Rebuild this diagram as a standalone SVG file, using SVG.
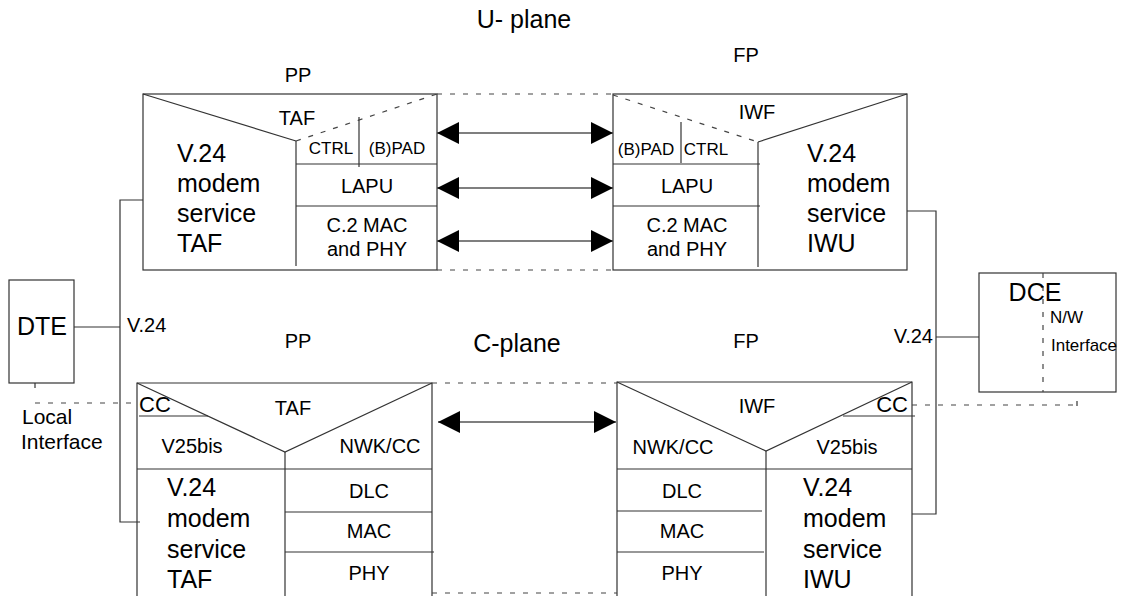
<svg xmlns="http://www.w3.org/2000/svg" width="1122" height="596" viewBox="0 0 1122 596">
<defs>
<style>
text{font-family:"Liberation Sans",Arial,sans-serif;fill:#000}
.big{font-size:25px}
.mid{font-size:20px}
.lg{font-size:22px}
.sm{font-size:17px}
.c{text-anchor:middle}
.ln{stroke:#333;stroke-width:1.2;fill:none}
.dash{stroke:#444;stroke-width:1.2;fill:none;stroke-dasharray:5 8}
.arr{stroke:#555;stroke-width:1.5;fill:none;marker-start:url(#ah);marker-end:url(#ah)}
</style>
<marker id="ah" viewBox="0 0 22 22" refX="22" refY="11" markerWidth="22" markerHeight="22" markerUnits="userSpaceOnUse" orient="auto-start-reverse"><path d="M0,0 L22,11 L0,22 z" fill="#000"/></marker>
</defs>
<rect width="1122" height="596" fill="#fff"/>

<g id="titles">
<text class="big c" x="524" y="28">U- plane</text>
<text class="mid c" x="298" y="82">PP</text>
<text class="mid c" x="746" y="62">FP</text>
<text class="mid c" x="298" y="348">PP</text>
<text class="big c" x="517" y="352">C-plane</text>
<text class="mid c" x="746" y="348">FP</text>
</g>

<g id="pp-uplane">
<rect class="ln" x="143" y="94" width="294" height="176"/>
<line class="ln" x1="143" y1="94" x2="296" y2="141"/>
<line class="dash" x1="296" y1="141" x2="437" y2="94"/>
<line class="ln" x1="296" y1="141" x2="296" y2="266"/>
<line class="ln" x1="296" y1="164" x2="437" y2="164"/>
<line class="ln" x1="296" y1="206" x2="437" y2="206"/>
<line class="ln" x1="359" y1="117" x2="359" y2="167"/>
<text class="mid c" x="297" y="125">TAF</text>
<text class="sm c" x="331" y="154">CTRL</text>
<text class="sm c" x="397" y="154">(B)PAD</text>
<text class="mid c" x="367" y="193">LAPU</text>
<text class="mid c" x="367" y="232">C.2 MAC</text>
<text class="mid c" x="367" y="256">and PHY</text>
<text class="big" x="177" y="162">V.24</text>
<text class="big" x="177" y="192">modem</text>
<text class="big" x="177" y="222">service</text>
<text class="big" x="177" y="252">TAF</text>
</g>

<g id="fp-uplane">
<rect class="ln" x="613" y="94" width="294" height="176"/>
<line class="ln" x1="758" y1="142" x2="907" y2="94"/>
<line class="dash" x1="613" y1="95" x2="758" y2="142"/>
<line class="ln" x1="758" y1="142" x2="758" y2="267"/>
<line class="ln" x1="613" y1="164" x2="760" y2="164"/>
<line class="ln" x1="613" y1="206" x2="760" y2="206"/>
<line class="ln" x1="681" y1="122" x2="681" y2="163"/>
<text class="mid c" x="757" y="119">IWF</text>
<text class="sm c" x="646" y="155">(B)PAD</text>
<text class="sm c" x="706" y="155">CTRL</text>
<text class="mid c" x="687" y="193">LAPU</text>
<text class="mid c" x="687" y="232">C.2 MAC</text>
<text class="mid c" x="687" y="256">and PHY</text>
<text class="big" x="807" y="162">V.24</text>
<text class="big" x="807" y="192">modem</text>
<text class="big" x="807" y="222">service</text>
<text class="big" x="807" y="252">IWU</text>
</g>

<g id="pp-cplane">
<path class="ln" d="M137,596 V383 H432 V596"/>
<polyline class="ln" points="137,383 285,452 432,383"/>
<line class="ln" x1="285" y1="452" x2="285" y2="596"/>
<line class="ln" x1="137" y1="469" x2="432" y2="469"/>
<line class="ln" x1="285" y1="512" x2="432" y2="512"/>
<line class="ln" x1="285" y1="552" x2="434" y2="552"/>
<line class="ln" x1="139" y1="416" x2="208" y2="416" stroke-width="1.6"/>
<text class="lg" x="139" y="412">CC</text>
<text class="mid c" x="293" y="415">TAF</text>
<text class="mid c" x="192" y="453">V25bis</text>
<text class="mid c" x="380" y="453">NWK/CC</text>
<text class="mid c" x="369" y="498">DLC</text>
<text class="mid c" x="369" y="538">MAC</text>
<text class="mid c" x="369" y="580">PHY</text>
<text class="big" x="167" y="496">V.24</text>
<text class="big" x="167" y="527">modem</text>
<text class="big" x="167" y="558">service</text>
<text class="big" x="167" y="588">TAF</text>
</g>

<g id="fp-cplane">
<path class="ln" d="M617,596 V382 H912 V596"/>
<polyline class="ln" points="617,382 766,451 912,382"/>
<line class="ln" x1="766" y1="451" x2="766" y2="596"/>
<line class="ln" x1="617" y1="469" x2="912" y2="469"/>
<line class="ln" x1="617" y1="511" x2="762" y2="511"/>
<line class="ln" x1="617" y1="552" x2="764" y2="552"/>
<line class="ln" x1="843" y1="416" x2="915" y2="416" stroke-width="1.6"/>
<text class="lg" x="908" y="412" text-anchor="end">CC</text>
<text class="mid c" x="757" y="413">IWF</text>
<text class="mid c" x="673" y="454">NWK/CC</text>
<text class="mid c" x="847" y="454">V25bis</text>
<text class="mid c" x="682" y="498">DLC</text>
<text class="mid c" x="682" y="538">MAC</text>
<text class="mid c" x="682" y="580">PHY</text>
<text class="big" x="803" y="496">V.24</text>
<text class="big" x="803" y="527">modem</text>
<text class="big" x="803" y="558">service</text>
<text class="big" x="803" y="588">IWU</text>
</g>

<g id="dte">
<rect class="ln" x="9" y="280" width="65" height="103"/>
<text class="big c" x="42" y="335">DTE</text>
</g>

<g id="dce">
<rect class="ln" x="979" y="273" width="137" height="119"/>
<line class="dash" x1="1043" y1="273" x2="1043" y2="392" stroke-dasharray="5 7"/>
<text class="big c" x="1035" y="301">DCE</text>
<text class="sm" x="1050" y="323">N/W</text>
<text class="sm" x="1051" y="351" textLength="66" lengthAdjust="spacingAndGlyphs">Interface</text>
</g>

<g id="labels">
<text class="mid" x="127" y="332" font-size="21">V.24</text>
<text class="mid" x="933" y="343" text-anchor="end">V.24</text>
<text x="22" y="424" font-size="21">Local</text>
<text x="21" y="449" font-size="21">Interface</text>
</g>

<g id="connectors">
<line class="arr" x1="437" y1="133" x2="613" y2="133"/>
<line class="arr" x1="437" y1="188" x2="613" y2="188"/>
<line class="arr" x1="437" y1="241" x2="613" y2="241"/>
<line class="arr" x1="438" y1="422" x2="616" y2="422"/>
<line class="dash" x1="437" y1="94" x2="613" y2="94"/>
<line class="dash" x1="437" y1="270" x2="613" y2="270"/>
<line class="dash" x1="432" y1="383" x2="617" y2="383"/>
<line class="dash" x1="432" y1="593" x2="617" y2="593"/>
<line class="ln" x1="74" y1="327" x2="120" y2="327"/>
<polyline class="ln" points="143,200 120,200 120,522 140,522"/>
<polyline class="ln" points="907,211 936,211 936,514 912,514"/>
<line class="ln" x1="936" y1="337" x2="979" y2="337"/>
<line class="ln" x1="35" y1="383" x2="35" y2="388"/>
<line class="dash" x1="35" y1="403" x2="137" y2="403"/>
<line class="dash" x1="912" y1="405" x2="1077" y2="405"/>
<line class="ln" x1="1077" y1="401" x2="1077" y2="406"/>
</g>
</svg>
